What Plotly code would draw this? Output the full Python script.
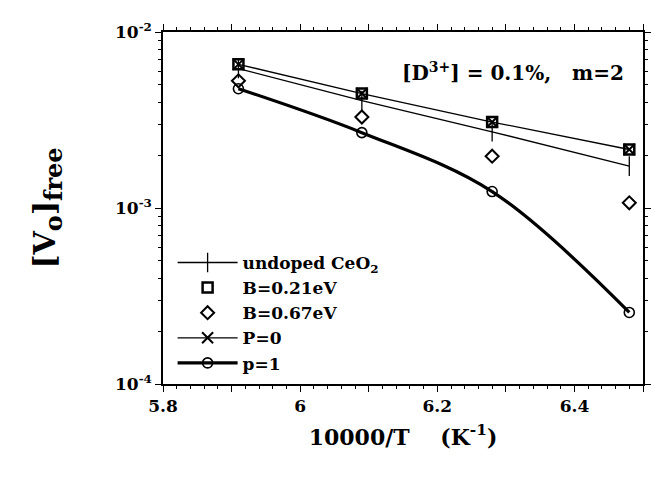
import plotly.graph_objects as go

# Data (x = 10000/T, y = [Vo]free)
x_vals = [5.91, 6.09, 6.28, 6.48]
undoped = [6.2e-3, 4.08e-3, 2.71e-3, 1.73e-3]
b021 = [6.55e-3, 4.47e-3, 3.08e-3, 2.15e-3]
b067 = [5.28e-3, 3.29e-3, 1.97e-3, 1.07e-3]
p0 = [6.55e-3, 4.47e-3, 3.08e-3, 2.15e-3]
p1 = [4.76e-3, 2.68e-3, 1.24e-3, 2.55e-4]

x_range = [5.8, 6.5]
y_range_log = [-4, -2]
x_tickvals = [5.8, 5.9, 6.0, 6.1, 6.2, 6.3, 6.4, 6.5]
x_ticktext = ["5.8", "", "6", "", "6.2", "", "6.4", ""]
y_tickvals = [1e-4, 1e-3, 1e-2]
y_ticktext = ["10<sup>-4</sup>", "10<sup>-3</sup>", "10<sup>-2</sup>"]

FONT = "DejaVu Serif"
OFF = 8  # page body margin
W, H = 663 - OFF, 477 - OFF
L, T = 163 - OFF, 25 - OFF
R = W - (648 - OFF)
B = H - (384 - OFF)
pw, ph = W - L - R, H - T - B

fig = go.Figure()
fig.add_trace(go.Scatter(
    x=x_vals, y=undoped, mode="lines+markers", name="<b>undoped CeO<sub>2</sub></b>",
    line=dict(color="black", width=1.3),
    marker=dict(symbol="line-ns", size=14, line=dict(color="black", width=1.3))))
fig.add_trace(go.Scatter(
    x=x_vals, y=b021, mode="markers", name="<b>B=0.21eV</b>",
    marker=dict(symbol="square-open", size=10, color="black", line=dict(color="black", width=2.5))))
fig.add_trace(go.Scatter(
    x=x_vals, y=b067, mode="markers", name="<b>B=0.67eV</b>",
    marker=dict(symbol="diamond-open", size=10, color="black", line=dict(color="black", width=2))))
fig.add_trace(go.Scatter(
    x=x_vals, y=p0, mode="lines+markers", name="<b>P=0</b>",
    line=dict(color="black", width=1.3),
    marker=dict(symbol="x-thin", size=11, line=dict(color="black", width=2))))
fig.add_trace(go.Scatter(
    x=x_vals, y=p1, mode="lines+markers", name="<b>p=1</b>",
    line=dict(color="black", width=3.2, shape="spline"),
    marker=dict(symbol="circle-open", size=10, color="black", line=dict(color="black", width=1.6))))

fig.add_annotation(
    x=(402 - 163) / pw, y=(384 - 66) / ph, xref="paper", yref="paper", showarrow=False,
    text="<b>[D<sup>3+</sup>] = 0.1%,   m=2</b>",
    font=dict(family=FONT, size=20, color="black"), xanchor="left", yanchor="middle")

fig.update_layout(
    width=W, height=H,
    margin=dict(l=L, r=R, t=T, b=B, pad=0),
    paper_bgcolor="white", plot_bgcolor="white",
    font=dict(family=FONT, color="black", size=16),
    showlegend=True,
    legend=dict(x=0.02, y=0.395, xanchor="left", yanchor="top",
                bgcolor="rgba(0,0,0,0)", font=dict(family=FONT, size=17),
                tracegroupgap=0, itemwidth=60),
    xaxis=dict(
        range=x_range, showgrid=False, zeroline=False,
        showline=True, linecolor="black", linewidth=1.5, mirror="allticks",
        ticks="outside", ticklen=6, tickwidth=1.4, tickcolor="black",
        tickvals=x_tickvals,
        ticktext=[f"<b>{t}</b>" if t else "" for t in x_ticktext],
        tickfont=dict(family=FONT, size=17),
        minor=dict(ticks="outside", dtick=0.02, ticklen=3, tickwidth=1.2, tickcolor="black"),
        title=dict(text="<b>10000/T    (K<sup>-1</sup>)</b>", font=dict(family=FONT, size=22), standoff=14),
    ),
    yaxis=dict(
        type="log", range=y_range_log, showgrid=False, zeroline=False,
        showline=True, linecolor="black", linewidth=1.5, mirror="allticks",
        ticks="outside", ticklen=6, tickwidth=1.4, tickcolor="black",
        tickvals=y_tickvals,
        ticktext=[f"<b>{t}</b>" for t in y_ticktext],
        tickfont=dict(family=FONT, size=17),
        minor=dict(ticks="outside", dtick="D1", ticklen=3, tickwidth=1.2, tickcolor="black"),
        title=dict(text="<b>[V<sub><span style='font-size:24px'>o</span></sub>]<sub><span style='font-size:24px'>free</span></sub></b>",
                   font=dict(family=FONT, size=30), standoff=50),
    ),
)

fig.write_html("out.html")
